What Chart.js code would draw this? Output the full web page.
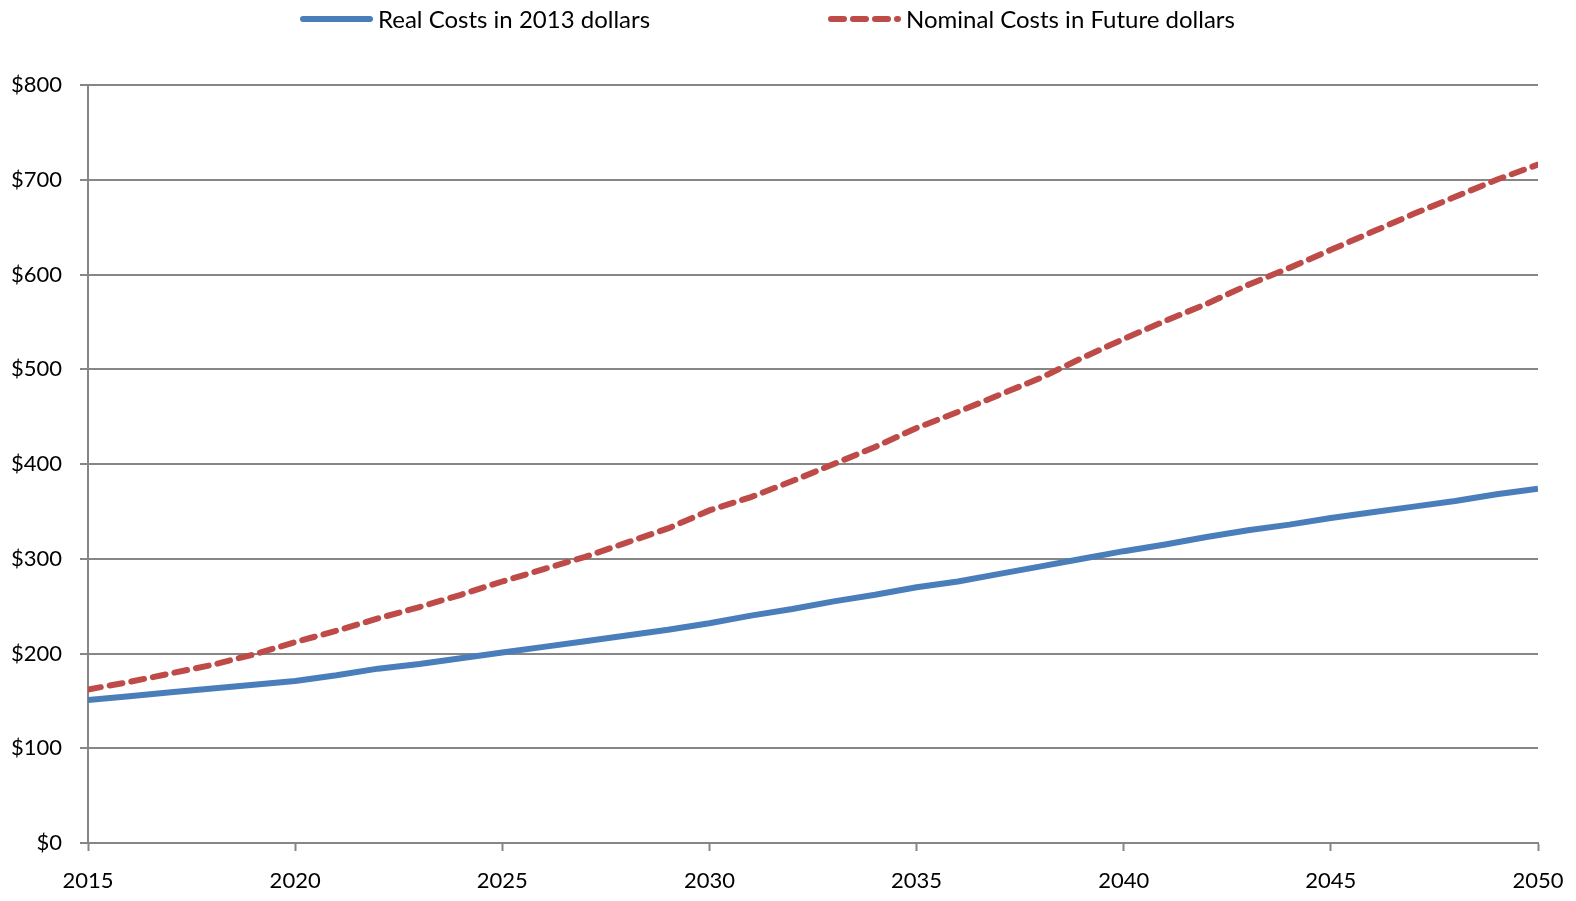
<!DOCTYPE html>
<html>
<head>
<meta charset="utf-8">
<title>Real vs Nominal Costs</title>
<script src="https://cdn.jsdelivr.net/npm/chart.js@4"></script>
<style>
	html, body {
		margin: 0;
		padding: 0;
		background: #fff;
	}
	.chart-box {
		position: relative;
		width: 1576px;
		height: 901px;
	}
</style>
</head>
<body>
<div class="chart-box">
	<canvas id="lineChart"></canvas>
</div>
<script>
var years = [
	2015, 2016, 2017, 2018, 2019, 2020, 2021, 2022, 2023, 2024,
	2025, 2026, 2027, 2028, 2029, 2030, 2031, 2032, 2033, 2034,
	2035, 2036, 2037, 2038, 2039, 2040, 2041, 2042, 2043, 2044,
	2045, 2046, 2047, 2048, 2049, 2050
];
var realCosts = [
	151, 155, 159, 163, 167, 171, 177, 184, 189, 195,
	201, 207, 213, 219, 225, 232, 240, 247, 255, 262,
	270, 276, 284, 292, 300, 308, 315, 323, 330, 336,
	343, 349, 355, 361, 368, 374
];
var nominalCosts = [
	162, 170, 179, 188, 199, 212, 224, 237, 249, 262,
	276, 289, 302, 317, 332, 351, 365, 382, 400, 418,
	438, 455, 473, 491, 512, 532, 551, 569, 589, 607,
	626, 645, 664, 682, 700, 716
];
var seriesNames = ['Real Costs in 2013 dollars', 'Nominal Costs in Future dollars'];
var yTicks = [0, 100, 200, 300, 400, 500, 600, 700, 800];

(function () {
	'use strict';

	var gridColor = '#868686';
	var fontFamily = 'Lato, "Noto Sans", sans-serif';

	function toPoints(values) {
		return years.map(function (yr, i) {
			return { x: yr, y: values[i] };
		});
	}

	// legend like the excel one: wide gap between the two items
	var excelLegend = {
		id: 'excelLegend',
		afterDraw: function (chart) {
			var ctx = chart.ctx;
			var starts = [300, 828];
			var y = 19;
			ctx.save();
			ctx.font = '24px ' + fontFamily;
			ctx.textBaseline = 'middle';
			ctx.textAlign = 'left';
			chart.data.datasets.forEach(function (ds, i) {
				var x = starts[i];
				ctx.beginPath();
				ctx.lineWidth = ds.borderWidth;
				ctx.strokeStyle = ds.borderColor;
				ctx.lineCap = 'round';
				ctx.setLineDash(ds.borderDash || []);
				ctx.moveTo(x + 3, y);
				ctx.lineTo(x + 70, y);
				ctx.stroke();
				ctx.setLineDash([]);
				ctx.fillStyle = '#000';
				ctx.fillText(ds.label, x + 78, y + 1);
			});
			ctx.restore();
		}
	};

	var lineChart = document.getElementById('lineChart');

	lineChart = new Chart(lineChart, {
		type: 'line',
		data: {
			datasets: [{
					label: seriesNames[0],
					data: toPoints(realCosts),
					borderColor: '#4a7ebb',
					backgroundColor: '#4a7ebb',
					borderWidth: 6,
					pointRadius: 0,
					tension: 0,
					borderJoinStyle: 'round'
				},
				{
					label: seriesNames[1],
					data: toPoints(nominalCosts),
					borderColor: '#be4b48',
					backgroundColor: '#be4b48',
					borderWidth: 6,
					borderDash: [13, 9],
					borderCapStyle: 'round',
					pointRadius: 0,
					tension: 0
				}
			]
		},
		options: {
			responsive: true,
			maintainAspectRatio: false,
			animation: false,
			layout: {
				padding: { top: 85, right: 38, bottom: 0, left: 0 }
			},
			plugins: {
				legend: { display: false },
				tooltip: { enabled: false }
			},
			scales: {
				x: {
					type: 'linear',
					min: years[0],
					max: years[years.length - 1],
					afterFit: function (scale) {
						scale.height = 58;
						scale.paddingLeft = 0;
						scale.paddingRight = 0;
					},
					ticks: {
						stepSize: 5,
						padding: 17,
						color: '#000',
						maxRotation: 0,
						font: { family: fontFamily, size: 22 },
						callback: function (value) {
							return String(value);
						}
					},
					grid: {
						drawOnChartArea: false,
						drawTicks: true,
						tickLength: 8,
						tickWidth: 2,
						tickColor: gridColor
					},
					border: {
						display: true,
						color: gridColor,
						width: 2
					}
				},
				y: {
					min: yTicks[0],
					max: yTicks[yTicks.length - 1],
					afterFit: function (scale) {
						scale.width = 88;
					},
					afterBuildTicks: function (scale) {
						scale.ticks = yTicks.map(function (v) {
							return { value: v };
						});
					},
					ticks: {
						padding: 18,
						color: '#000',
						font: { family: fontFamily, size: 22 },
						callback: function (value) {
							return '$' + value;
						}
					},
					grid: {
						color: gridColor,
						lineWidth: 2,
						tickLength: 8,
						tickColor: gridColor
					},
					border: {
						display: true,
						color: gridColor,
						width: 2
					}
				}
			}
		},
		plugins: [excelLegend]
	});
})();
</script>
</body>
</html>
